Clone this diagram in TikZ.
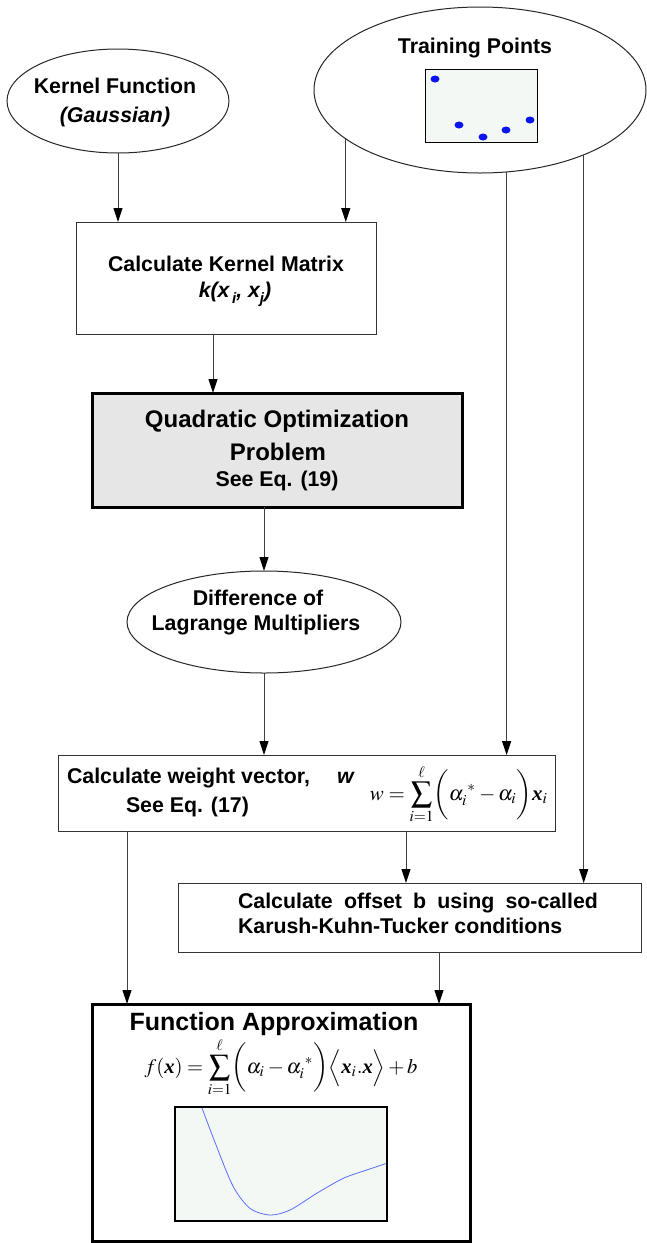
\documentclass[tikz,border=0pt]{standalone}
\usepackage{mathptmx}
\usepackage{amsmath}
\usepackage{graphicx}
\usepackage[no-math]{fontspec}
\setmainfont{Liberation Sans}
\newfontfamily\serifx{Liberation Serif}
\usetikzlibrary{arrows.meta,shapes.geometric,calc}
\definecolor{plotbg}{HTML}{F4F8F4}
\definecolor{qopgray}{HTML}{E6E6E6}
\definecolor{dotblue}{HTML}{0A14F0}
\definecolor{curveblue}{HTML}{5A6EFF}
\newcommand{\bxv}{\mbox{\serifx\bfseries\itshape x}}
\begin{document}
\begin{tikzpicture}[x=1pt,y=-1pt,
  every node/.style={inner sep=0pt, outer sep=0pt},
  body/.style={font=\fontsize{21.33}{25}\selectfont\bfseries, anchor=base},
  bigtxt/.style={font=\fontsize{24}{28}\selectfont\bfseries, anchor=base},
  thinbox/.style={draw=black!80, line width=1pt, fill=white},
  oval/.style={ellipse, draw=black!85, line width=1pt},
  plotbox/.style={draw=black, line width=2pt, fill=plotbg},
  arr/.style={draw=black!75, line width=1pt, -{Triangle[length=14pt,width=9pt,color=black]}},
]
\useasboundingbox (0,0) rectangle (647,1243);

% Kernel function
\node[oval, minimum width=222pt, minimum height=104pt] (kf) at (118,101) {};
\node[body] (kft1) at (115,93) {Kernel Function};
\node[body] (kft2) at (115,122) {\itshape (Gaussian)};

% Training points
\node[oval, minimum width=332pt, minimum height=166pt] (tp) at (480,90) {};
\node[body] (tpt) at (475,53) {Training Points};
\node[plotbox, line width=1.6pt, minimum width=112pt, minimum height=73pt] (tpbox) at (481.5,106) {};
\fill[dotblue] (435,79) ellipse [x radius=4.5pt, y radius=3.5pt];
\fill[dotblue] (459,125) ellipse [x radius=4.5pt, y radius=3.5pt];
\fill[dotblue] (483,137) ellipse [x radius=4.5pt, y radius=3.5pt];
\fill[dotblue] (506,130) ellipse [x radius=4.5pt, y radius=3.5pt];
\fill[dotblue] (530,120) ellipse [x radius=4.5pt, y radius=3.5pt];

% Kernel matrix
\node[thinbox, minimum width=300pt, minimum height=112pt] (km) at (226,278) {};
\node[body] (kmt1) at (226,271) {Calculate Kernel Matrix};
\node[body] (kmt2) at (235,297) {\itshape k(x\raisebox{-6pt}{\fontsize{15}{15}\selectfont\,i}, x\raisebox{-6pt}{\fontsize{15}{15}\selectfont j})};

% QOP
\node[draw=black, line width=3pt, fill=qopgray, minimum width=370pt, minimum height=114pt] (qop) at (277,450) {};
\node[bigtxt] (q1) at (277,427) {Quadratic Optimization};
\node[bigtxt] (q2) at (278,460) {Problem};
\node[body] (q3) at (277,486) {See Eq. (19)};

% Difference of Lagrange multipliers
\node[oval, minimum width=274pt, minimum height=102pt] (dl) at (264,622) {};
\node[body] (dl1) at (258,605) {Difference of};
\node[body] (dl2) at (256,630) {Lagrange Multipliers};

% Weight vector
\node[thinbox, minimum width=497pt, minimum height=76pt] (wv) at (306.5,793) {};
\node[body, anchor=base west] (wv1) at (67,783) {Calculate weight vector,};
\node[body, anchor=base west] (wv2) at (337,783) {\itshape w};
\node[body, anchor=base west] (wv3) at (126,812) {See Eq. (17)};
\node[anchor=base] (wvf) at (459,800) {\resizebox{178pt}{!}{$\displaystyle w=\sum_{i=1}^{\ell}\biggl(\alpha_i^{\;*}-\alpha_i\biggr)\bxv_i$}};

% Offset
\node[thinbox, minimum width=463pt, minimum height=69pt] (ob) at (409.5,917.5) {};
\node[body, anchor=base west] (ob1) at (238,908) {\hbox to 360pt{Calculate\hfill offset\hfill b\hfill using\hfill so-called}};
\node[body, anchor=base west] (ob2) at (238,933) {Karush-Kuhn-Tucker conditions};

% Function approximation
\node[draw=black, line width=3pt, fill=white, minimum width=378pt, minimum height=237pt] (fa) at (281,1122.5) {};
\node[font=\fontsize{25}{30}\selectfont\bfseries, anchor=base] (fat) at (274,1030) {Function Approximation};
\node[anchor=base] (faf) at (281,1073) {\resizebox{273pt}{!}{$\displaystyle f(\bxv)=\sum_{i=1}^{\ell}\biggl(\alpha_i-\alpha_i^{\;*}\biggr)\Bigl\langle \bxv_i.\bxv\Bigr\rangle+b$}};
\node[plotbox, minimum width=212pt, minimum height=114pt] (pl) at (281,1164) {};
\begin{scope}
\clip (pl.north west) rectangle (pl.south east);
\draw[curveblue, line width=0.8pt] plot[smooth] coordinates {(199,1100) (201.7,1107.3) (216.7,1146.7) (233.3,1186.7) (250,1208.3) (270,1215) (290,1210) (316.7,1193.3) (343.3,1178.3) (366.7,1170) (386.7,1163.3)};
\end{scope}
\node[draw=black, line width=2pt, minimum width=212pt, minimum height=114pt] (plb) at (281,1164) {};

% Connectors
\coordinate (kmo) at ($(km.south)+(-13,0)$);
\coordinate (wvo) at ($(wv.south)+(99.5,0)$);
\coordinate (wvl) at ($(wv.south)+(-179.5,0)$);
\coordinate (obo) at ($(ob.south)+(29.5,0)$);
\draw[arr] (kf.south) -- (kf.south |- km.north);
\draw[arr] (tp.200) -- (tp.200 |- km.north);
\draw[arr] (kmo) -- (kmo |- qop.north);
\draw[arr] (qop.south -| dl.north) -- (dl.north);
\draw[arr] (dl.south) -- (dl.south |- wv.north);
\draw[arr] (tp.288) -- (tp.288 |- wv.north);
\draw[arr] (tp.328) -- (tp.328 |- ob.north);
\draw[arr] (wvo) -- (wvo |- ob.north);
\draw[arr] (wvl) -- (wvl |- fa.north);
\draw[arr] (obo) -- (obo |- fa.north);
\end{tikzpicture}
\end{document}
